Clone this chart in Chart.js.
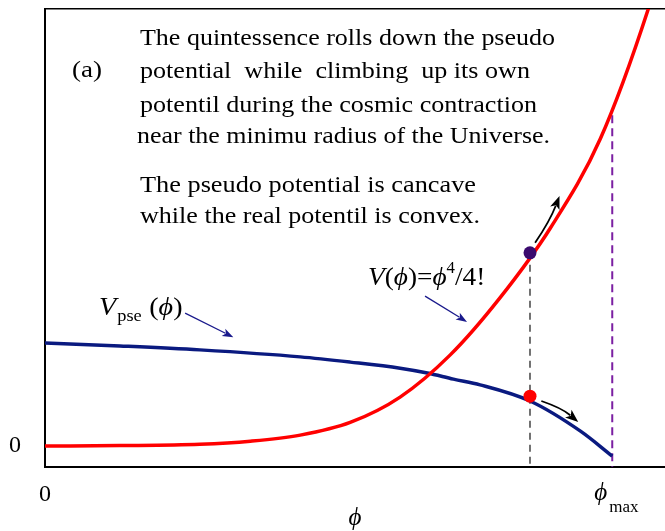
<!DOCTYPE html>
<html>
<head>
<meta charset="utf-8">
<script src="https://cdn.jsdelivr.net/npm/chart.js@4"></script>
<style>
  html, body { margin: 0; padding: 0; background: #fff; }
  #wrap { width: 665px; height: 531px; }
</style>
</head>
<body>
<div id="wrap"><canvas id="potChart"></canvas></div>
<script>
// field values (phi scaled so that phi_max = 1)
const phiReal = [0, 0.132, 0.273, 0.362, 0.450, 0.538, 0.626, 0.714, 0.802, 0.891, 0.979, 1.067, 1.085];
const vReal   = [0, 0.001, 0.004, 0.011, 0.025, 0.054, 0.112, 0.208, 0.339, 0.499, 0.703, 1.014, 1.095];

const phiPse = [0, 0.132, 0.273, 0.450, 0.538, 0.626, 0.674, 0.720, 0.767, 0.855, 0.944, 1.000];
const vPse   = [0.236, 0.229, 0.220, 0.204, 0.192, 0.178, 0.167, 0.153, 0.140, 0.103, 0.034, -0.023];

const phiNow = 0.855;          // where the two balls sit
const vBallReal = 0.442;
const vBallPse = 0.114;
const phiMax = 1;
const vMaxLine = 0.757;

const xTicks = [0, 1];
const xTickLabels = ['0', ''];   // phi_max drawn by the notes plugin (needs subscript)
const yTicks = [0];
const yTickLabels = ['0'];

const yMin = -0.048, yMax = 1.0, xMax = 1.093;

const serif = '"Liberation Serif", "Times New Roman", serif';

function pts(xs, ys) { return xs.map((x, i) => ({ x: x, y: ys[i] })); }

function noPad(s) {
  s.paddingTop = 0; s.paddingBottom = 0; s.paddingLeft = 0; s.paddingRight = 0;
}

function fitLine(ctx, text, x, y, w) {
  const m = ctx.measureText(text).width;
  ctx.save();
  ctx.translate(x, y);
  ctx.scale(w / m, 1);
  ctx.fillText(text, 0, 0);
  ctx.restore();
}

function rich(ctx, parts, x, y, sx) {
  ctx.save();
  ctx.translate(x, y);
  ctx.scale(sx, 1);
  let cx = 0;
  parts.forEach(p => {
    ctx.font = p.f;
    ctx.fillText(p.t, cx, p.dy || 0);
    cx += ctx.measureText(p.t).width + (p.gap || 0);
  });
  ctx.restore();
}

function arrow(ctx, x1, y1, x2, y2, bend, col, lw, hl, hw) {
  const mx = (x1 + x2) / 2, my = (y1 + y2) / 2;
  const dx = x2 - x1, dy = y2 - y1, len = Math.hypot(dx, dy);
  const cx = mx - dy / len * bend, cy = my + dx / len * bend;
  const a = Math.atan2(y2 - cy, x2 - cx);
  const bx = x2 - Math.cos(a) * hl * 0.8, by = y2 - Math.sin(a) * hl * 0.8;
  ctx.save();
  ctx.strokeStyle = col; ctx.fillStyle = col; ctx.lineWidth = lw;
  ctx.beginPath();
  ctx.moveTo(x1, y1);
  ctx.quadraticCurveTo(cx, cy, bx, by);
  ctx.stroke();
  ctx.beginPath();
  ctx.moveTo(x2, y2);
  ctx.lineTo(x2 - Math.cos(a) * hl - Math.sin(a) * hw, y2 - Math.sin(a) * hl + Math.cos(a) * hw);
  ctx.lineTo(x2 - Math.cos(a) * hl * 0.75, y2 - Math.sin(a) * hl * 0.75);
  ctx.lineTo(x2 - Math.cos(a) * hl + Math.sin(a) * hw, y2 - Math.sin(a) * hl - Math.cos(a) * hw);
  ctx.closePath();
  ctx.fill();
  ctx.restore();
}

const notes = {
  id: 'notes',
  afterDraw(chart) {
    const ctx = chart.ctx;
    const X = v => chart.scales.x.getPixelForValue(v);
    const Y = v => chart.scales.y.getPixelForValue(v);
    ctx.save();
    ctx.fillStyle = '#000';
    ctx.textBaseline = 'alphabetic';
    ctx.textAlign = 'left';

    // text block
    ctx.font = '23px ' + serif;
    fitLine(ctx, 'The quintessence rolls down the pseudo', 140, 45, 415);
    fitLine(ctx, 'potential  while  climbing  up its own', 140, 78, 390);
    fitLine(ctx, 'potentil during the cosmic contraction', 140, 112, 397);
    fitLine(ctx, 'near the minimu radius of the Universe.', 137, 143, 413);
    fitLine(ctx, 'The pseudo potential is cancave', 140, 192, 336);
    fitLine(ctx, 'while the real potentil is convex.', 140, 223, 340);
    fitLine(ctx, '(a)', 72, 77, 30);

    const it = 'italic 26px ' + serif, rm = '26px ' + serif;
    rich(ctx, [
      { t: 'V', f: it }, { t: '(', f: rm }, { t: 'ϕ', f: it }, { t: ')', f: rm },
      { t: '=', f: rm }, { t: 'ϕ', f: it }, { t: '4', f: '16px ' + serif, dy: -12 },
      { t: '/4!', f: rm }
    ], 368, 285, 1.05);

    rich(ctx, [
      { t: 'V', f: it, gap: 1 }, { t: 'pse', f: '17px ' + serif, dy: 6, gap: 7 },
      { t: '(', f: rm }, { t: 'ϕ', f: it }, { t: ')', f: rm }
    ], 99, 315, 1.08);

    // phi_max tick label
    const pm = X(phiMax);
    rich(ctx, [
      { t: 'ϕ', f: 'italic 25px ' + serif, gap: 2 },
      { t: 'max', f: '17px ' + serif, dy: 12 }
    ], pm - 18, 500, 1.0);

    // arrows
    arrow(ctx, X(0.247), Y(0.304), X(0.332), Y(0.249), 0, '#1a1a8c', 1.3, 11, 4);
    arrow(ctx, X(0.670), Y(0.343), X(0.744), Y(0.284), 0, '#1a1a8c', 1.3, 11, 4);
    arrow(ctx, X(0.864), Y(0.465), X(0.907), Y(0.572), 3, '#000', 1.8, 13, 5);
    arrow(ctx, X(0.875), Y(0.103), X(0.940), Y(0.055), -4, '#000', 1.8, 13, 5);
    ctx.restore();
  }
};

new Chart(document.getElementById('potChart'), {
  type: 'line',
  data: {
    datasets: [
      { data: [{ x: phiNow, y: vBallReal }], showLine: false, pointRadius: 6.5, pointBackgroundColor: '#3a0a6e', pointBorderWidth: 0 },
      { data: [{ x: phiNow, y: vBallPse }], showLine: false, pointRadius: 6.5, pointBackgroundColor: '#ff0000', pointBorderWidth: 0 },
      { data: pts(phiReal, vReal), borderColor: '#ff0000', borderWidth: 3.5, pointRadius: 0, cubicInterpolationMode: 'monotone' },
      { data: pts(phiPse, vPse), borderColor: '#0a1a80', borderWidth: 3.5, pointRadius: 0, cubicInterpolationMode: 'monotone' },
      { data: [{ x: phiNow, y: vBallReal }, { x: phiNow, y: yMin }], borderColor: '#444', borderWidth: 1.5, borderDash: [7, 5], pointRadius: 0 },
      { data: [{ x: phiMax, y: vMaxLine }, { x: phiMax, y: yMin }], borderColor: '#7b1fa2', borderWidth: 2, borderDash: [8, 5], pointRadius: 0 }
    ]
  },
  options: {
    responsive: true,
    maintainAspectRatio: false,
    animation: false,
    layout: { padding: 0, autoPadding: false },
    plugins: { legend: { display: false }, tooltip: { enabled: false } },
    scales: {
      x: {
        type: 'linear', min: 0, max: xMax, position: 'bottom',
        grid: { display: false, drawTicks: false },
        border: { display: true, color: '#000', width: 2 },
        afterBuildTicks: s => { s.ticks = xTicks.map(v => ({ value: v })); },
        afterFit: s => { s.height = 64; noPad(s); },
        ticks: {
          autoSkip: false, maxRotation: 0, padding: 13, color: '#000',
          font: { family: serif, size: 24 },
          callback: (v) => xTickLabels[xTicks.indexOf(v)]
        },
        title: { display: true, text: 'ϕ', color: '#000', font: { family: serif, size: 25, style: 'italic', lineHeight: 1 }, padding: 0 }
      },
      xTop: {
        type: 'linear', position: 'top', display: true,
        grid: { display: false, drawTicks: false },
        border: { display: true, color: '#000', width: 1.5 },
        ticks: { display: false },
        afterFit: s => { s.height = 9; noPad(s); }
      },
      y: {
        type: 'linear', min: yMin, max: yMax,
        grid: { display: false, drawTicks: false },
        border: { display: true, color: '#000', width: 2 },
        afterBuildTicks: s => { s.ticks = yTicks.map(v => ({ value: v })); },
        afterFit: s => { s.width = 45; noPad(s); },
        ticks: {
          padding: 24, color: '#000',
          font: { family: serif, size: 24 },
          callback: (v) => yTickLabels[yTicks.indexOf(v)]
        }
      }
    }
  },
  plugins: [notes]
});
</script>
</body>
</html>
